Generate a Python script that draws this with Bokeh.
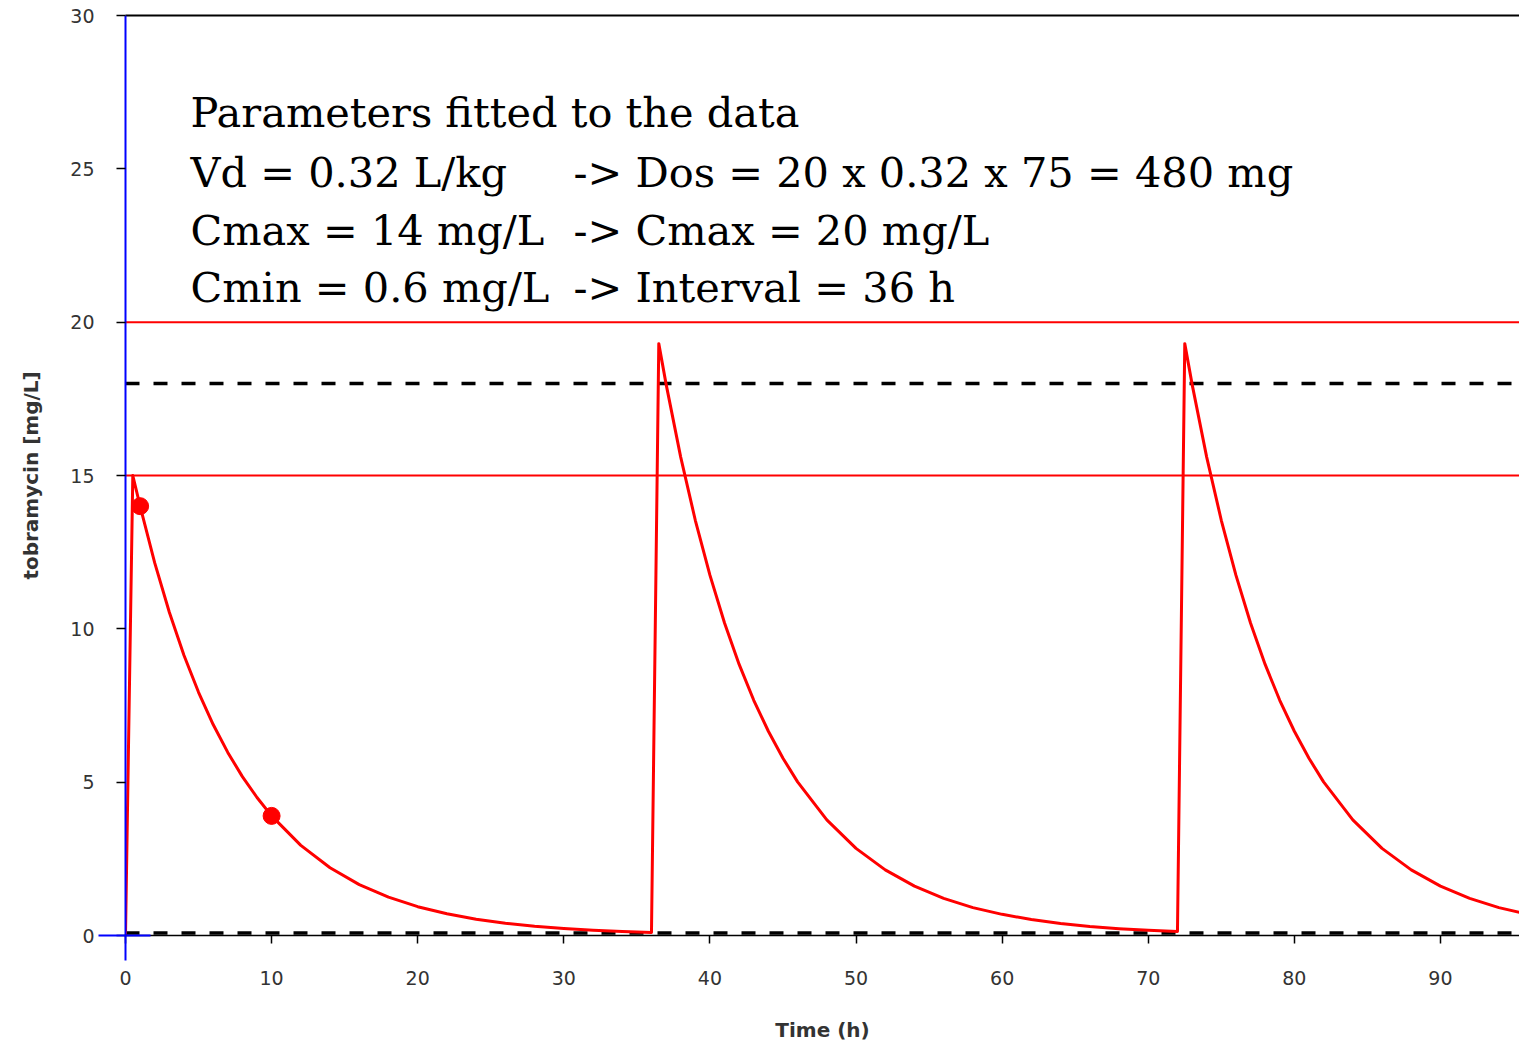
from bokeh.plotting import figure
from bokeh.models import Range1d, FixedTicker, ColumnDataSource, LinearAxis
from bokeh.core.properties import value
from bokeh.embed import file_html
from bokeh.resources import INLINE

# ---- data ----
time_h = [0, 0.5, 1, 2, 3, 4, 5, 6, 7, 8, 9, 10, 12, 14, 16, 18, 20, 22, 24, 26, 28, 30, 32, 34, 36.0,
          36.5, 37, 38, 39, 40, 41, 42, 43, 44, 45, 46, 48, 50, 52, 54, 56, 58, 60, 62, 64, 66, 68, 70, 72.0,
          72.5, 73, 74, 75, 76, 77, 78, 79, 80, 81, 82, 84, 86, 88, 90, 92, 94, 96]
conc_mg_l = [0, 15.0, 14.0, 12.15, 10.54, 9.14, 7.93, 6.88, 5.97, 5.18, 4.50, 3.90,
             2.94, 2.21, 1.66, 1.25, 0.94, 0.71, 0.53, 0.40, 0.30, 0.23, 0.17, 0.13, 0.10,
             19.3, 17.98, 15.6, 13.54, 11.75, 10.19, 8.84, 7.67, 6.66, 5.78, 5.01,
             3.77, 2.84, 2.14, 1.61, 1.21, 0.91, 0.69, 0.52, 0.39, 0.29, 0.22, 0.17, 0.13,
             19.3, 17.98, 15.6, 13.54, 11.75, 10.19, 8.84, 7.67, 6.66, 5.78, 5.01,
             3.77, 2.84, 2.14, 1.61, 1.21, 0.91, 0.69]
measured_t = [1, 10]
measured_c = [14.0, 3.9]
red_levels = [15, 20]
dashed_levels = [18, 0.08]
x_ticks = [0, 10, 20, 30, 40, 50, 60, 70, 80, 90]
y_ticks = [0, 5, 10, 15, 20, 25, 30]
left_texts = ["Parameters fitted to the data", "Vd = 0.32 L/kg", "Cmax = 14 mg/L", "Cmin = 0.6 mg/L"]
right_texts = ["-> Dos = 20 x 0.32 x 75 = 480 mg", "-> Cmax = 20 mg/L", "-> Interval = 36 h"]

X_END = 95.41
p = figure(width=1519, height=1044, output_backend="svg", toolbar_location=None,
           x_range=Range1d(0, X_END), y_range=Range1d(0, 30),
           min_border_left=125, min_border_right=0, min_border_top=15, min_border_bottom=109)
p.outline_line_color = None
p.xgrid.visible = False
p.ygrid.visible = False
p.background_fill_color = "white"
p.border_fill_color = "white"

# x axis (blue minor tick at 0 forms the lower arm of the origin cross)
xa = p.xaxis[0]
xa.ticker = FixedTicker(ticks=x_ticks, minor_ticks=[0])
xa.axis_line_color = "black"
xa.axis_line_width = 1.5
xa.major_tick_line_color = "black"
xa.major_tick_line_width = 1.5
xa.major_tick_out = 8
xa.major_tick_in = 0
xa.minor_tick_line_color = "blue"
xa.minor_tick_line_width = 2
xa.minor_tick_out = 25
xa.minor_tick_in = 0
xa.major_label_standoff = 10
xa.major_label_text_font = "DejaVu Sans"
xa.major_label_text_font_size = "19px"
xa.major_label_text_color = "#333333"
xa.axis_label = "Time (h)"
xa.axis_label_text_font = "DejaVu Sans"
xa.axis_label_text_font_style = "bold"
xa.axis_label_text_font_size = "20px"
xa.axis_label_text_color = "#333333"
xa.axis_label_standoff = 30

# y axis (blue minor tick at 0 forms the horizontal arm of the origin cross)
ya = p.yaxis[0]
ya.ticker = FixedTicker(ticks=y_ticks, minor_ticks=[0])
ya.axis_line_color = "blue"
ya.axis_line_width = 2
ya.major_tick_line_color = "black"
ya.major_tick_line_width = 1.5
ya.major_tick_out = 9
ya.major_tick_in = 0
ya.minor_tick_line_color = "blue"
ya.minor_tick_line_width = 2
ya.minor_tick_out = 27
ya.minor_tick_in = 25
ya.major_label_standoff = 4
ya.major_label_text_font = "DejaVu Sans"
ya.major_label_text_font_size = "19px"
ya.major_label_text_color = "#333333"
ya.axis_label = "tobramycin [mg/L]"
ya.axis_label_text_font = "DejaVu Sans"
ya.axis_label_text_font_style = "bold"
ya.axis_label_text_font_size = "20px"
ya.axis_label_text_color = "#333333"
ya.axis_label_standoff = 24

# top border as a bare axis line
top = LinearAxis(ticker=FixedTicker(ticks=[]), axis_line_color="black", axis_line_width=2,
                 major_tick_line_color=None, minor_tick_line_color=None)
p.add_layout(top, "above")

# reference levels
for lv in red_levels:
    p.line([0, X_END], [lv, lv], line_color="red", line_width=2)
for lv in dashed_levels:
    p.line([0, X_END], [lv, lv], line_color="black", line_width=3.5, line_dash="14 14")

# concentration curve
src = ColumnDataSource(dict(t=time_h, c=conc_mg_l))
p.line("t", "c", source=src, line_color="red", line_width=3, line_join="round")
p.scatter(measured_t, measured_c, size=17, color="red")

# annotation text
text_y = [26.83, 24.88, 22.99, 21.13]
p.text(x=[4.45] * 4, y=text_y, text=left_texts, text_font=value("DejaVu Serif"),
       text_font_size="41.5px", text_color="black", text_baseline="middle", text_align="left")
p.text(x=[30.66] * 3, y=text_y[1:], text=right_texts, text_font=value("DejaVu Serif"),
       text_font_size="41.5px", text_color="black", text_baseline="middle", text_align="left")

open("out.html", "w").write(file_html(p, INLINE))
